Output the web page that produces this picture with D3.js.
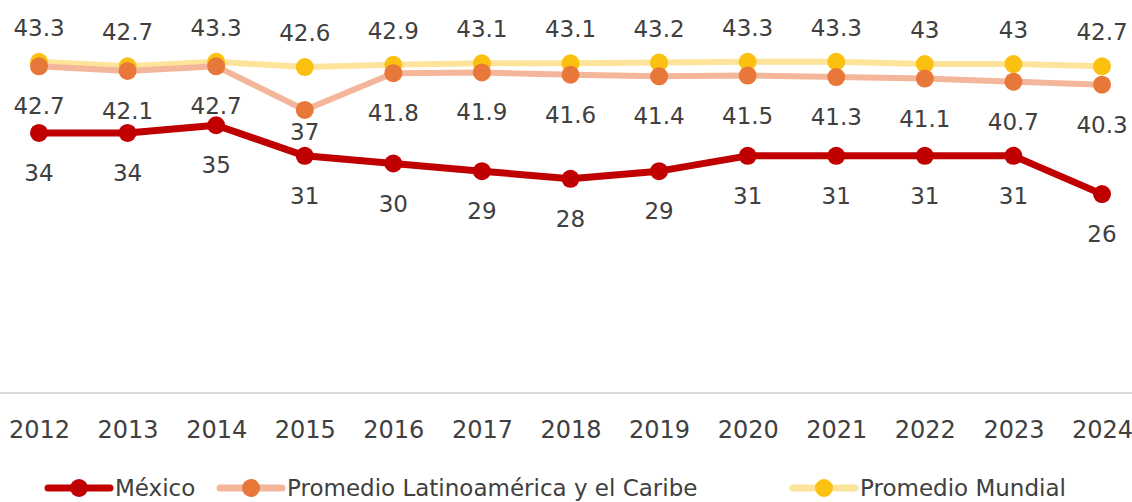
<!doctype html>
<html lang="es">
<head>
    <meta charset="utf-8">
    <title></title>
    <script src="https://d3js.org/d3.v7.min.js"></script>
    <style type="text/css">
        body { margin: 0; background: #fff; }
        text { font-family: "DejaVu Sans", sans-serif; fill: #404040; }
    </style>
</head>

<body>
</body>

<script type="text/javascript">

    var width  = 1132;
    var height = 502;

    var years = ["2012","2013","2014","2015","2016","2017","2018","2019","2020","2021","2022","2023","2024"];
    var mexico = [34, 34, 35, 31, 30, 29, 28, 29, 31, 31, 31, 31, 26];
    var latam  = [42.7, 42.1, 42.7, 37, 41.8, 41.9, 41.6, 41.4, 41.5, 41.3, 41.1, 40.7, 40.3];
    var mundial = [43.3, 42.7, 43.3, 42.6, 42.9, 43.1, 43.1, 43.2, 43.3, 43.3, 43, 43, 42.7];
    var seriesNames = ["México", "Promedio Latinoamérica y el Caribe", "Promedio Mundial"];

    var series = [
        {name: seriesNames[0], values: mexico,  line: "#c00000", dot: "#c00000", pos: "below", w: 7},
        {name: seriesNames[1], values: latam,   line: "#f4b69a", dot: "#e8773a", pos: "below", w: 6},
        {name: seriesNames[2], values: mundial, line: "#fde49a", dot: "#fcc010", pos: "above", w: 6}
    ];

    var x = d3.scalePoint()
        .domain(years)
        .range([39, 1102]);

    var y = d3.scaleLinear()
        .domain([0, 50])
        .range([393, 10.5]);

    var svg = d3.select("body")
        .append("svg")
        .attr("width", width)
        .attr("height", height);

    // baseline gridline
    svg.append("line")
        .attr("x1", 0).attr("x2", width)
        .attr("y1", y(0)).attr("y2", y(0))
        .style("stroke", "#d9d9d9")
        .style("stroke-width", 2);

    // x axis labels
    var xAxis = d3.axisBottom(x).tickSize(0).tickPadding(0);
    var gx = svg.append("g")
        .attr("transform", "translate(0," + (y(0) + 45) + ")")
        .call(xAxis);
    gx.select(".domain").remove();
    gx.selectAll("text")
        .attr("dy", 0)
        .style("font-size", "24px")
        .style("font-family", "DejaVu Sans, sans-serif")
        .style("fill", "#404040");

    var line = d3.line()
        .x((d,i)=>x(years[i]))
        .y(d=>y(d));

    // draw back to front: world, latam, mexico
    var order = [series[2], series[1], series[0]];

    order.forEach(function(s){
        svg.append("path")
            .datum(s.values)
            .attr("d", line)
            .style("fill", "none")
            .style("stroke", s.line)
            .style("stroke-width", s.w)
            .style("stroke-linejoin", "round");
    });

    order.forEach(function(s){
        svg.selectAll(null)
            .data(s.values)
            .enter()
            .append("circle")
            .attr("cx", (d,i)=>x(years[i]))
            .attr("cy", d=>y(d))
            .attr("r", 9)
            .style("fill", s.dot);
    });

    // data labels
    series.forEach(function(s){
        svg.selectAll(null)
            .data(s.values)
            .enter()
            .append("text")
            .attr("x", (d,i)=>x(years[i]))
            .attr("y", function(d){
                if (s.pos == "above") return y(d) - 26;
                if (s === series[1] && d < 40) return y(d) + 30;
                return y(d) + 48;
            })
            .attr("text-anchor", "middle")
            .style("font-size", "23px")
            .text(d=>d);
    });

    // legend
    var legendX = [48, 220, 793];
    var legendY = 488;
    var legend = svg.selectAll(".legend")
        .data(series)
        .enter()
        .append("g")
        .attr("class", "legend")
        .attr("transform", (d,i)=>"translate(" + legendX[i] + "," + legendY + ")");

    legend.append("line")
        .attr("x1", 0).attr("x2", 62)
        .attr("y1", 0).attr("y2", 0)
        .style("stroke", d=>d.line)
        .style("stroke-width", 7)
        .style("stroke-linecap", "round");

    legend.append("circle")
        .attr("cx", 31).attr("cy", 0).attr("r", 9)
        .style("fill", d=>d.dot);

    legend.append("text")
        .attr("x", 67)
        .attr("y", 0)
        .attr("dy", "0.36em")
        .style("font-size", "23px")
        .text(d=>d.name);

</script>

</html>
